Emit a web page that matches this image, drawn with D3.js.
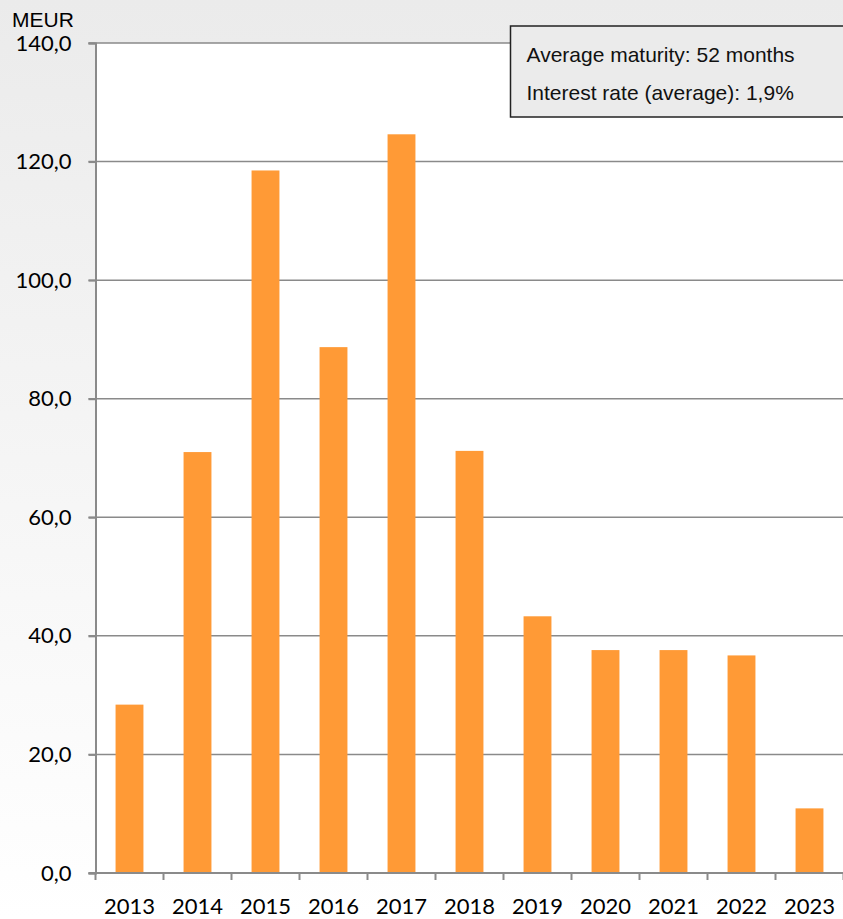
<!DOCTYPE html>
<html>
<head>
<meta charset="utf-8">
<script src="https://cdn.jsdelivr.net/npm/d3@7"></script>
<style>
  html, body { margin: 0; padding: 0; background: #fff; }
  svg { display: block; }
</style>
</head>
<body>
<svg id="chart" width="843" height="919"></svg>
<script>
// data
var years = ["2013", "2014", "2015", "2016", "2017", "2018", "2019", "2020", "2021", "2022", "2023"];
var amounts = [28.4, 71.0, 118.5, 88.7, 124.6, 71.2, 43.3, 37.6, 37.6, 36.7, 10.9];
var yTicks = [0, 20, 40, 60, 80, 100, 120, 140];
var boxLines = ["Average maturity: 52 months", "Interest rate (average): 1,9%"];
var unitLabel = "MEUR";

var svg = d3.select("#chart"),
    W = +svg.attr("width"),
    H = +svg.attr("height");

// plot area edges (window.top is reserved, so m.* names)
var m = {left: 95.5, right: 843.5, top: 43, bottom: 873};

// background gradient
var defs = svg.append("defs");
var grad = defs.append("linearGradient")
    .attr("id", "bg")
    .attr("x1", 0).attr("y1", 0)
    .attr("x2", 0).attr("y2", 1);
grad.append("stop").attr("offset", "0%").attr("stop-color", "#ebebeb");
grad.append("stop").attr("offset", "100%").attr("stop-color", "#ffffff");

svg.append("rect")
    .attr("width", W).attr("height", H)
    .attr("fill", "url(#bg)");

// plot area
svg.append("rect")
    .attr("x", m.left).attr("y", m.top)
    .attr("width", m.right - m.left).attr("height", m.bottom - m.top)
    .attr("fill", "#fff");

var x = d3.scaleBand()
    .domain(years)
    .range([m.left, m.right])
    .paddingInner(0.59)
    .paddingOuter(0.295);

var y = d3.scaleLinear()
    .domain([0, 140])
    .range([m.bottom, m.top]);

var fmt = function(d) { return d3.format(".1f")(d).replace(".", ","); };

// gridlines
svg.append("g")
    .selectAll("line")
    .data(yTicks.filter(function(d) { return d > 0; }))
    .enter().append("line")
    .attr("x1", m.left - 7).attr("x2", m.right)
    .attr("y1", function(d) { return y(d); })
    .attr("y2", function(d) { return y(d); })
    .attr("stroke", "#8a8a8a")
    .attr("stroke-width", 1.5);

// bars
svg.append("g")
    .selectAll("rect")
    .data(amounts)
    .enter().append("rect")
    .attr("x", function(d, i) { return x(years[i]); })
    .attr("y", function(d) { return y(d); })
    .attr("width", x.bandwidth())
    .attr("height", function(d) { return m.bottom - y(d); })
    .attr("fill", "#ff9a36");

// y axis
var yAxis = svg.append("g")
    .attr("transform", "translate(" + m.left + ",0)")
    .call(d3.axisLeft(y).tickValues(yTicks).tickFormat(fmt).tickSize(7).tickPadding(17));
yAxis.selectAll("path, line").attr("stroke", "#8a8a8a").attr("stroke-width", 2);
yAxis.selectAll("text")
    .attr("font-family", "Lato, 'Open Sans', sans-serif")
    .attr("font-size", "22px")
    .attr("fill", "#000");

// x axis: labels centred, ticks on category boundaries
var xAxis = svg.append("g")
    .attr("transform", "translate(0," + m.bottom + ")")
    .call(d3.axisBottom(x).tickSize(0).tickPadding(25));
xAxis.select("path").remove();
xAxis.selectAll("text")
    .attr("font-family", "Lato, 'Open Sans', sans-serif")
    .attr("font-size", "22px")
    .attr("fill", "#000");

xAxis.append("line")
    .attr("x1", m.left - 7).attr("x2", m.right)
    .attr("y1", 0).attr("y2", 0)
    .attr("stroke", "#8a8a8a").attr("stroke-width", 2);

var bounds = years.map(function(d) { return x(d) - x.step() * x.paddingOuter(); });
bounds.push(m.right);
xAxis.selectAll(".bound")
    .data(bounds)
    .enter().append("line")
    .attr("class", "bound")
    .attr("x1", function(d) { return d; })
    .attr("x2", function(d) { return d; })
    .attr("y1", 0).attr("y2", 7)
    .attr("stroke", "#8a8a8a").attr("stroke-width", 2);

// unit label
svg.append("text")
    .attr("x", 12).attr("y", 27)
    .attr("font-family", "'Liberation Sans', Arial, sans-serif")
    .attr("font-size", "21px")
    .text(unitLabel);

// info box
var box = svg.append("g").attr("transform", "translate(510.5,26)");
box.append("rect")
    .attr("width", 345).attr("height", 91)
    .attr("fill", "#ebebeb")
    .attr("stroke", "#222")
    .attr("stroke-width", 1.5);
box.selectAll("text")
    .data(boxLines)
    .enter().append("text")
    .attr("x", 16)
    .attr("y", function(d, i) { return 36 + i * 38; })
    .attr("font-family", "'Liberation Sans', Arial, sans-serif")
    .attr("font-size", "21px")
    .attr("fill", "#111")
    .text(function(d) { return d; });
</script>
</body>
</html>
